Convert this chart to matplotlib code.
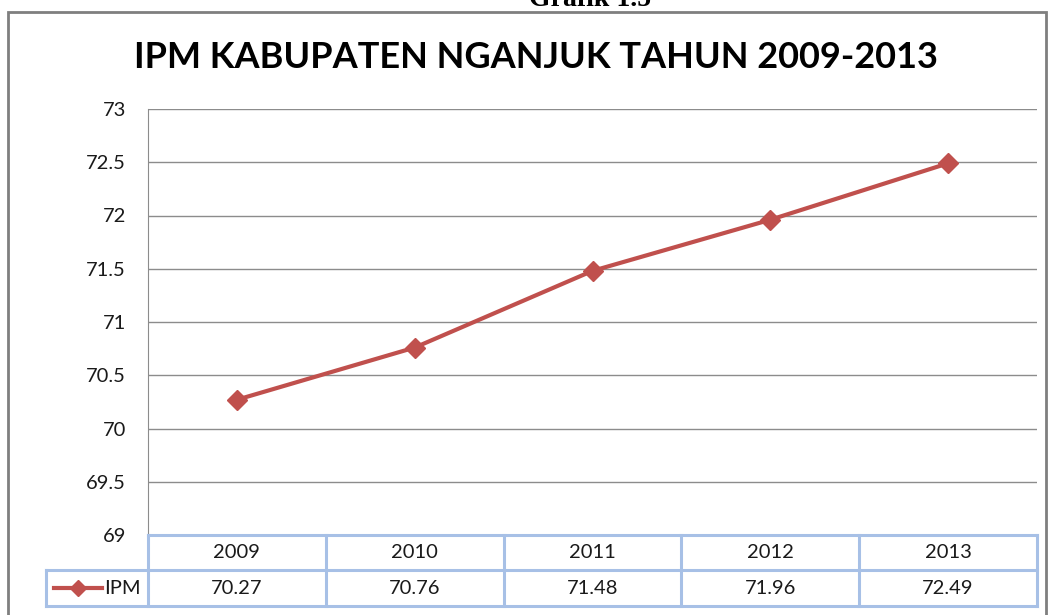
import matplotlib
matplotlib.use("Agg")
import matplotlib.pyplot as plt
from matplotlib.transforms import blended_transform_factory
from matplotlib.lines import Line2D
from matplotlib.patches import Rectangle

years = ["2009", "2010", "2011", "2012", "2013"]
ipm = [70.27, 70.76, 71.48, 71.96, 72.49]
series_name = "IPM"
title = "IPM KABUPATEN NGANJUK TAHUN 2009-2013"
yticks = [69, 69.5, 70, 70.5, 71, 71.5, 72, 72.5, 73]

W, H = 1051, 615
fig = plt.figure(figsize=(W / 100, H / 100), dpi=100)
fig.patch.set_facecolor("white")

def fx(px):
    return px / W

def fy(py):
    return 1 - py / H

RED = "#C0504D"
GRID = "#8C8C8C"
TBL = "#A7C0E6"
TXT = "#1A1A1A"

# outer chart border
fig.add_artist(Rectangle((fx(8), fy(640)), fx(1046) - fx(8), fy(12) - fy(640),
                         transform=fig.transFigure, fill=False, edgecolor="#7F7F7F", lw=2))

# caption at top (partly cut off, as in the reference)
fig.text(fx(590), fy(-1), "Grafik 1.5", ha="center", va="center", fontsize=20,
         fontweight="bold", family="Liberation Serif", color="black")

fig.text(fx(536), fy(57), title, ha="center", va="center", fontsize=26,
         fontweight="bold", family="Lato", color="black")

FS = 14.5
left, right, top, bottom = 148, 1037, 109, 535
ax = fig.add_axes([fx(left), fy(bottom), fx(right) - fx(left), fy(top) - fy(bottom)])
x = list(range(len(years)))
ax.plot(x, ipm, color=RED, lw=3, marker="D", markersize=10, markerfacecolor=RED,
        markeredgecolor=RED, zorder=3)
ax.set_xlim(-0.5, len(years) - 0.5)
ax.set_ylim(yticks[0], yticks[-1])
ax.set_yticks(yticks)
ax.set_yticklabels([f"{v:g}" for v in yticks], family="Lato", fontsize=FS, color=TXT)
ax.tick_params(axis="y", length=0, pad=16)
ax.set_xticks([])
ax.grid(axis="y", color=GRID, lw=1)
ax.set_axisbelow(True)
for s in ["top", "right", "bottom"]:
    ax.spines[s].set_visible(False)
ax.spines["left"].set_color(GRID)

# data table
tr = blended_transform_factory(ax.transData, fig.transFigure)
row1_top, row1_bot, row2_bot = 535, 570, 606
bounds = [i - 0.5 for i in range(len(years) + 1)]
for py, x0 in [(row1_top, None), (row1_bot, 46), (row2_bot, 46)]:
    xs = fx(x0) if x0 is not None else fx(left)
    fig.add_artist(Line2D([xs, fx(right)], [fy(py), fy(py)], transform=fig.transFigure,
                          color=TBL, lw=2.2))
for b in bounds:
    fig.add_artist(Line2D([b, b], [fy(row1_top), fy(row2_bot)], transform=tr,
                          color=TBL, lw=2.2, clip_on=False))
fig.add_artist(Line2D([fx(46), fx(46)], [fy(row1_bot), fy(row2_bot)],
                      transform=fig.transFigure, color=TBL, lw=2.2))
for i, (yr, v) in enumerate(zip(years, ipm)):
    fig.text(i, fy((row1_top + row1_bot) / 2), yr, transform=tr, ha="center", va="center",
             family="Lato", fontsize=FS, color=TXT)
    fig.text(i, fy((row1_bot + row2_bot) / 2), f"{v:.2f}", transform=tr, ha="center",
             va="center", family="Lato", fontsize=FS, color=TXT)
# legend key
ym = fy((row1_bot + row2_bot) / 2)
fig.add_artist(Line2D([fx(54), fx(102)], [ym, ym], transform=fig.transFigure, color=RED, lw=3))
fig.add_artist(Line2D([fx(78)], [ym], transform=fig.transFigure, color=RED, marker="D",
                      markersize=8, lw=0))
fig.text(fx(104), ym, series_name, ha="left", va="center", family="Lato", fontsize=FS, color=TXT)

fig.savefig("out.png", dpi=100)
